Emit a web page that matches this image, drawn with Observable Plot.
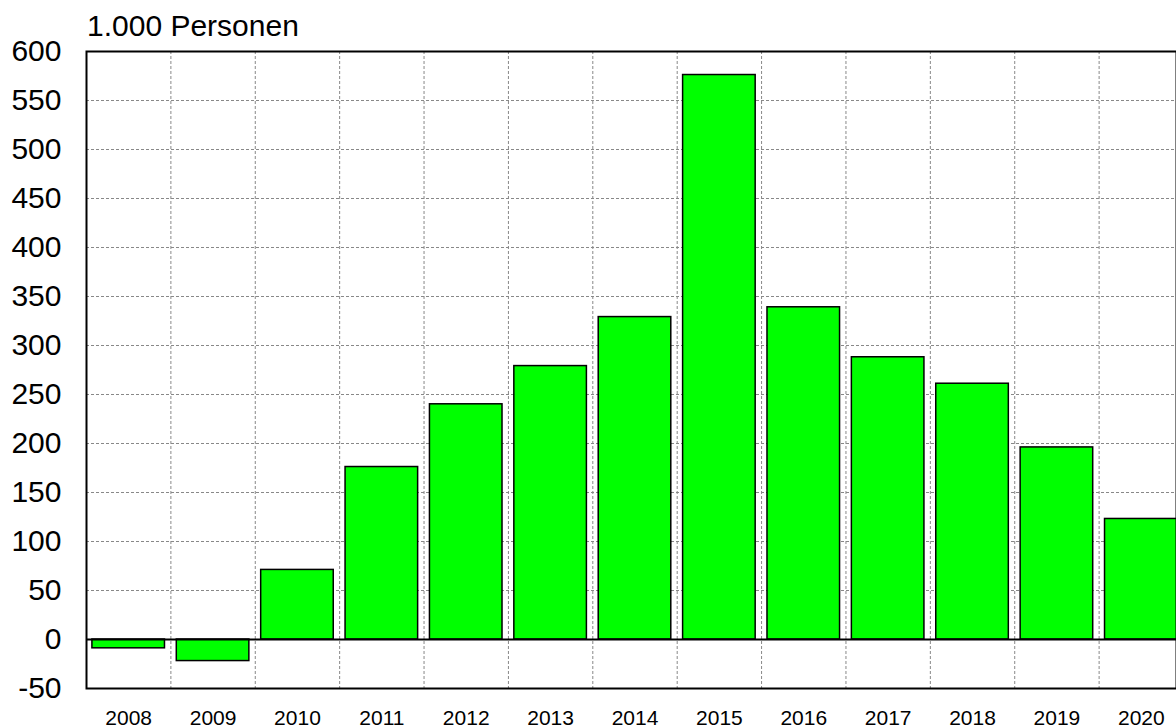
<!DOCTYPE html>
<html>
<head>
<meta charset="utf-8">
<script src="https://cdn.jsdelivr.net/npm/d3@7"></script>
<script src="https://cdn.jsdelivr.net/npm/@observablehq/plot@0.6"></script>
<style>
  html, body { margin: 0; padding: 0; background: #fff; overflow: hidden; }
  body { position: relative; width: 1176px; height: 728px; font-family: "Liberation Sans", Arial, sans-serif; }
  #title { position: absolute; left: 87px; top: 11px; font-size: 30px; line-height: 30px; color: #000; z-index: 2; }
  #chart { position: absolute; left: 0; top: 0; z-index: 1; }
  #chart svg { overflow: visible; }
</style>
</head>
<body>
<div id="title">1.000 Personen</div>
<div id="chart"></div>
<script>
const years = [2008, 2009, 2010, 2011, 2012, 2013, 2014, 2015, 2016, 2017, 2018, 2019, 2020];
const values = [-9, -22, 71, 176, 240, 279, 329, 576, 339, 288, 261, 196, 123];
const yTicks = [-50, 0, 50, 100, 150, 200, 250, 300, 350, 400, 450, 500, 550, 600];

const data = years.map((year, i) => ({year, value: values[i]}));
const boundaries = years.map(y => y - 0.5);
const halfBar = 0.43;

const chart = Plot.plot({
  width: 1176,
  height: 728,
  marginTop: 51,
  marginBottom: 40,
  marginLeft: 86,
  marginRight: 0,
  style: {fontFamily: '"Liberation Sans", Arial, sans-serif', color: "#000", background: "transparent"},
  x: {domain: [years[0] - 0.5, years[years.length - 1] + 0.5], range: [86, 1183]},
  y: {domain: [yTicks[0], yTicks[yTicks.length - 1]]},
  marks: [
    Plot.ruleY(yTicks, {stroke: "#888", strokeWidth: 1, strokeDasharray: "3,2"}),
    Plot.ruleX(boundaries, {stroke: "#888", strokeWidth: 1, strokeDasharray: "3,2"}),
    Plot.rectY(data, {
      x1: d => d.year - halfBar,
      x2: d => d.year + halfBar,
      y1: 0,
      y2: "value",
      fill: "#00ff00",
      stroke: "#000",
      strokeWidth: 1.5
    }),
    Plot.ruleY([0], {stroke: "#000", strokeWidth: 2}),
    Plot.frame({stroke: "#000", strokeWidth: 2}),
    Plot.axisY(yTicks, {tickSize: 0, tickPadding: 25, fontSize: 30, label: null, tickFormat: d => String(d)}),
    Plot.axisX(years, {tickSize: 0, tickPadding: 22, fontSize: 21, label: null, tickFormat: d => String(d)})
  ]
});
document.getElementById("chart").appendChild(chart);
</script>
</body>
</html>
